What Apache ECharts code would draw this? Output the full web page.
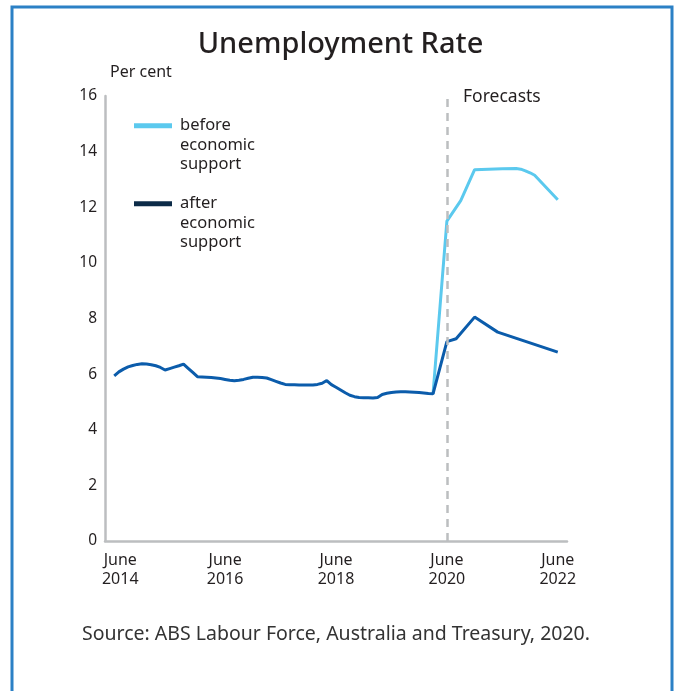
<!DOCTYPE html>
<html>
<head>
<meta charset="utf-8">
<script src="https://cdn.jsdelivr.net/npm/echarts@6/dist/echarts.min.js"></script>
<style>
  html, body { margin: 0; padding: 0; background: #fff; }
  #chart { width: 681px; height: 691px; }
</style>
</head>
<body>
<div id="chart"></div>
<script>
// axis range (monthly categories) and labelled ticks
const firstMonth = '2014-04'
const lastMonth = '2022-08'
const tickMonths = ['2014-06', '2016-06', '2018-06', '2020-06', '2022-06']

// actual + "after economic support" forecast
const afterDates = [
  '2014-06', '2014-07', '2014-08', '2014-09', '2014-10', '2014-11', '2014-12',
  '2015-01', '2015-02', '2015-03', '2015-04', '2015-05', '2015-06', '2015-07', '2015-08', '2015-09', '2015-10', '2015-11', '2015-12',
  '2016-01', '2016-02', '2016-03', '2016-04', '2016-05', '2016-06', '2016-07', '2016-08', '2016-09', '2016-10', '2016-11', '2016-12',
  '2017-01', '2017-02', '2017-03', '2017-04', '2017-05', '2017-06', '2017-07', '2017-08', '2017-09', '2017-10', '2017-11', '2017-12',
  '2018-01', '2018-02', '2018-03', '2018-04', '2018-05', '2018-06', '2018-07', '2018-08', '2018-09', '2018-10', '2018-11', '2018-12',
  '2019-01', '2019-02', '2019-03', '2019-04', '2019-05', '2019-06', '2019-07', '2019-08', '2019-09', '2019-10', '2019-11', '2019-12',
  '2020-01', '2020-02', '2020-03',
  '2020-06', '2020-08', '2020-12', '2021-05', '2022-06'
]
const afterValues = [
  5.94, 6.08, 6.18, 6.26, 6.31, 6.35, 6.37,
  6.36, 6.34, 6.30, 6.24, 6.15, 6.20, 6.25, 6.30, 6.36, 6.21, 6.06, 5.91,
  5.90, 5.89, 5.88, 5.86, 5.84, 5.81, 5.78, 5.76, 5.78, 5.81, 5.85, 5.89,
  5.89, 5.88, 5.86, 5.80, 5.74, 5.68, 5.63, 5.62, 5.62, 5.61, 5.61, 5.61,
  5.61, 5.63, 5.67, 5.77, 5.62, 5.53, 5.43, 5.33, 5.24, 5.19, 5.16, 5.15,
  5.15, 5.14, 5.16, 5.27, 5.31, 5.34, 5.36, 5.37, 5.37, 5.36, 5.35, 5.34,
  5.32, 5.30, 5.29,
  7.17, 7.27, 8.05, 7.51, 6.79
]

// "before economic support" forecast
const beforeDates = [
  '2020-03', '2020-06', '2020-09', '2020-12', '2021-03', '2021-06',
  '2021-09', '2021-10', '2021-11', '2021-12', '2022-01', '2022-06'
]
const beforeValues = [
  5.29, 11.5, 12.24, 13.35, 13.37, 13.38,
  13.39, 13.37, 13.31, 13.24, 13.15, 12.27
]

const yTicks = [0, 2, 4, 6, 8, 10, 12, 14, 16]

const months = []
let [yy, mm] = firstMonth.split('-').map(Number)
while (true) {
  const key = yy + '-' + String(mm).padStart(2, '0')
  months.push(key)
  if (key === lastMonth) break
  mm++
  if (mm > 12) { mm = 1; yy++ }
}

const font = 'Noto Sans'
const textColor = '#231f20'
const axisGrey = '#bcbec0'

const chart = echarts.init(document.getElementById('chart'))
chart.setOption({
  animation: false,
  textStyle: { fontFamily: font },
  title: [
    {
      text: 'Unemployment Rate',
      left: 'center',
      top: 30,
      padding: 0,
      textStyle: { fontSize: 29, fontWeight: 500, color: textColor, fontFamily: font }
    },
    {
      text: 'Source: ABS Labour Force, Australia and Treasury, 2020.',
      left: 82,
      top: 624,
      padding: 0,
      textStyle: { fontSize: 19.5, fontWeight: 'normal', color: '#333', fontFamily: font }
    }
  ],
  legend: [
    {
      data: [{ name: 'before economic support', itemStyle: { color: '#5bc9ee' } }],
      left: 134, top: 77, padding: 0,
      icon: 'rect', itemWidth: 38, itemHeight: 5,
      formatter: name => '\n\n' + name.split(' ').join('\n'),
      textStyle: { fontSize: 16.5, lineHeight: 19.5, color: textColor, fontFamily: font, padding: [0, 0, 0, 3] }
    },
    {
      data: [{ name: 'after economic support', itemStyle: { color: '#0c2b48' } }],
      left: 134, top: 155, padding: 0,
      icon: 'rect', itemWidth: 38, itemHeight: 5,
      formatter: name => '\n\n' + name.split(' ').join('\n'),
      textStyle: { fontSize: 16.5, lineHeight: 19.5, color: textColor, fontFamily: font, padding: [0, 0, 0, 3] }
    }
  ],
  graphic: [
    {
      type: 'rect',
      shape: { x: 12, y: 7, width: 660, height: 720 },
      style: { fill: 'none', stroke: '#2b80c5', lineWidth: 3 }
    },
    {
      type: 'text',
      left: 463, top: 88,
      style: { text: 'Forecasts', fontSize: 17.5, fill: textColor, fontFamily: font }
    }
  ],
  grid: { left: 105, right: 114, top: 96, bottom: 150 },
  xAxis: {
    type: 'category',
    data: months,
    boundaryGap: false,
    axisLine: { lineStyle: { color: axisGrey, width: 2.5 } },
    axisTick: { show: false },
    axisLabel: {
      interval: (i, v) => tickMonths.includes(v),
      formatter: v => {
        const s = v === tickMonths[0] ? 'first' : 'std'
        return '{' + s + '|June}\n{' + s + '|' + v.slice(0, 4) + '}'
      },
      rich: {
        std: { fontSize: 16, lineHeight: 19, color: textColor },
        first: { fontSize: 16, lineHeight: 19, color: textColor, padding: [0, 0, 0, 12] }
      },
      fontSize: 16,
      lineHeight: 19,
      margin: 10,
      color: textColor
    },
    splitLine: { show: false }
  },
  yAxis: {
    type: 'value',
    min: yTicks[0],
    max: yTicks[yTicks.length - 1],
    interval: 2,
    name: 'Per cent',
    nameLocation: 'end',
    nameGap: 16,
    nameTextStyle: { align: 'left', fontSize: 16, color: textColor, padding: [0, 0, 0, 5] },
    axisLine: { show: true, lineStyle: { color: axisGrey, width: 2.5 } },
    axisTick: { show: false },
    axisLabel: { fontSize: 15.5, margin: 8, color: textColor },
    splitLine: { show: false }
  },
  series: [
    {
      name: 'before economic support',
      type: 'line',
      data: beforeDates.map((d, i) => [d, beforeValues[i]]),
      showSymbol: false,
      lineStyle: { color: '#5bc9ee', width: 3 },
      itemStyle: { color: '#5bc9ee' },
      markLine: {
        silent: true,
        symbol: 'none',
        label: { show: false },
        lineStyle: { color: axisGrey, width: 2.5, type: [8, 6] },
        data: [{ xAxis: '2020-06' }]
      }
    },
    {
      name: 'after economic support',
      type: 'line',
      data: afterDates.map((d, i) => [d, afterValues[i]]),
      showSymbol: false,
      lineStyle: { color: '#0b5cab', width: 3 },
      itemStyle: { color: '#0c2b48' }
    }
  ]
})
</script>
</body>
</html>
